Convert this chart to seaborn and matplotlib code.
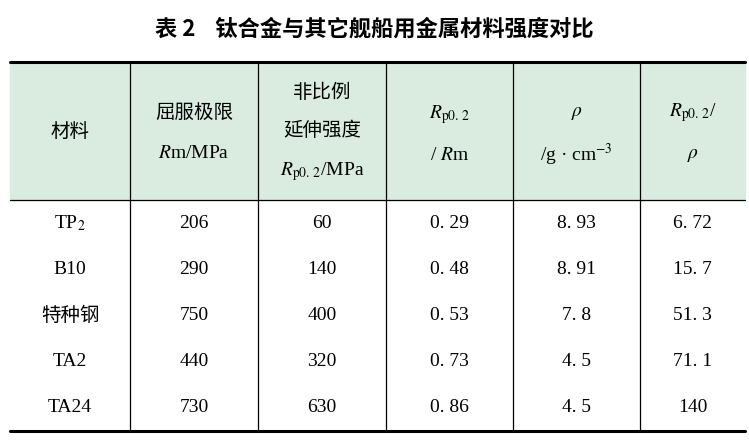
import matplotlib
matplotlib.use("Agg")
import matplotlib.pyplot as plt
import seaborn as sns

sns.set_theme(style="white")
plt.rcParams['font.family'] = ['Liberation Serif', 'Noto Sans CJK SC']
plt.rcParams['mathtext.fontset'] = 'stix'
plt.rcParams['text.color'] = 'black'

title = "表 2    钛合金与其它舰船用金属材料强度对比"
materials = [r"TP$_2$", "B10", "特种钢", "TA2", "TA24"]
rm = ["206", "290", "750", "440", "730"]
rp = ["60", "140", "400", "320", "630"]
ratio = ["0. 29", "0. 48", "0. 53", "0. 73", "0. 86"]
rho = ["8. 93", "8. 91", "7. 8", "4. 5", "4. 5"]
spec = ["6. 72", "15. 7", "51. 3", "71. 1", "140"]

W, H = 749, 441
fig = plt.figure(figsize=(W/100, H/100), dpi=100)
ax = fig.add_axes([0, 0, 1, 1])
ax.set_xlim(0, W); ax.set_ylim(H, 0); ax.axis('off')

top, hb, bot = 62, 200, 431
cols = [10, 130, 258, 386, 513, 640, 745]
ax.add_patch(plt.Rectangle((cols[0], top), cols[-1]-cols[0], hb-top, color='#d9ecdf', zorder=0))
ax.plot([cols[0], cols[-1]], [top, top], color='black', lw=2.2)
ax.plot([cols[0], cols[-1]], [bot, bot], color='black', lw=2.2)
ax.plot([cols[0], cols[-1]], [hb, hb], color='black', lw=0.9)
for x in cols[1:-1]:
    ax.plot([x, x], [top, bot], color='black', lw=0.9)

ax.text(W/2, 29, title, ha='center', va='center', fontsize=16, fontweight='bold',
        family=['Noto Sans CJK SC'])

fs = 14
cjk = ['Noto Sans CJK SC']
cx = [(cols[i]+cols[i+1])/2 for i in range(6)]
ax.text(cx[0], 131, "材料", ha='center', va='center', fontsize=fs, family=cjk)
ax.text(cx[1], 112, "屈服极限", ha='center', va='center', fontsize=fs, family=cjk)
ax.text(cx[1], 153, r"$R$m/MPa", ha='center', va='center', fontsize=fs)
ax.text(cx[2], 92, "非比例", ha='center', va='center', fontsize=fs, family=cjk)
ax.text(cx[2], 131, "延伸强度", ha='center', va='center', fontsize=fs, family=cjk)
ax.text(cx[2], 172, r"$R_{\mathrm{p0.\,2}}$/MPa", ha='center', va='center', fontsize=fs)
ax.text(cx[3], 115, r"$R_{\mathrm{p0.\,2}}$", ha='center', va='center', fontsize=fs)
ax.text(cx[3], 155, r"/ $R$m", ha='center', va='center', fontsize=fs)
ax.text(cx[4], 113, r"$\rho$", ha='center', va='center', fontsize=fs)
ax.text(cx[4], 155, r"/g · cm$^{-3}$", ha='center', va='center', fontsize=fs)
ax.text(cx[5], 113, r"$R_{\mathrm{p0.\,2}}$/", ha='center', va='center', fontsize=fs)
ax.text(cx[5], 155, r"$\rho$", ha='center', va='center', fontsize=fs)

rowh = (bot - hb) / 5
for i, row in enumerate(zip(materials, rm, rp, ratio, rho, spec)):
    y = hb + rowh*(i+0.5)
    for j, v in enumerate(row):
        ax.text(cx[j], y, v, ha='center', va='center', fontsize=fs)

fig.savefig("out.png", dpi=100)
